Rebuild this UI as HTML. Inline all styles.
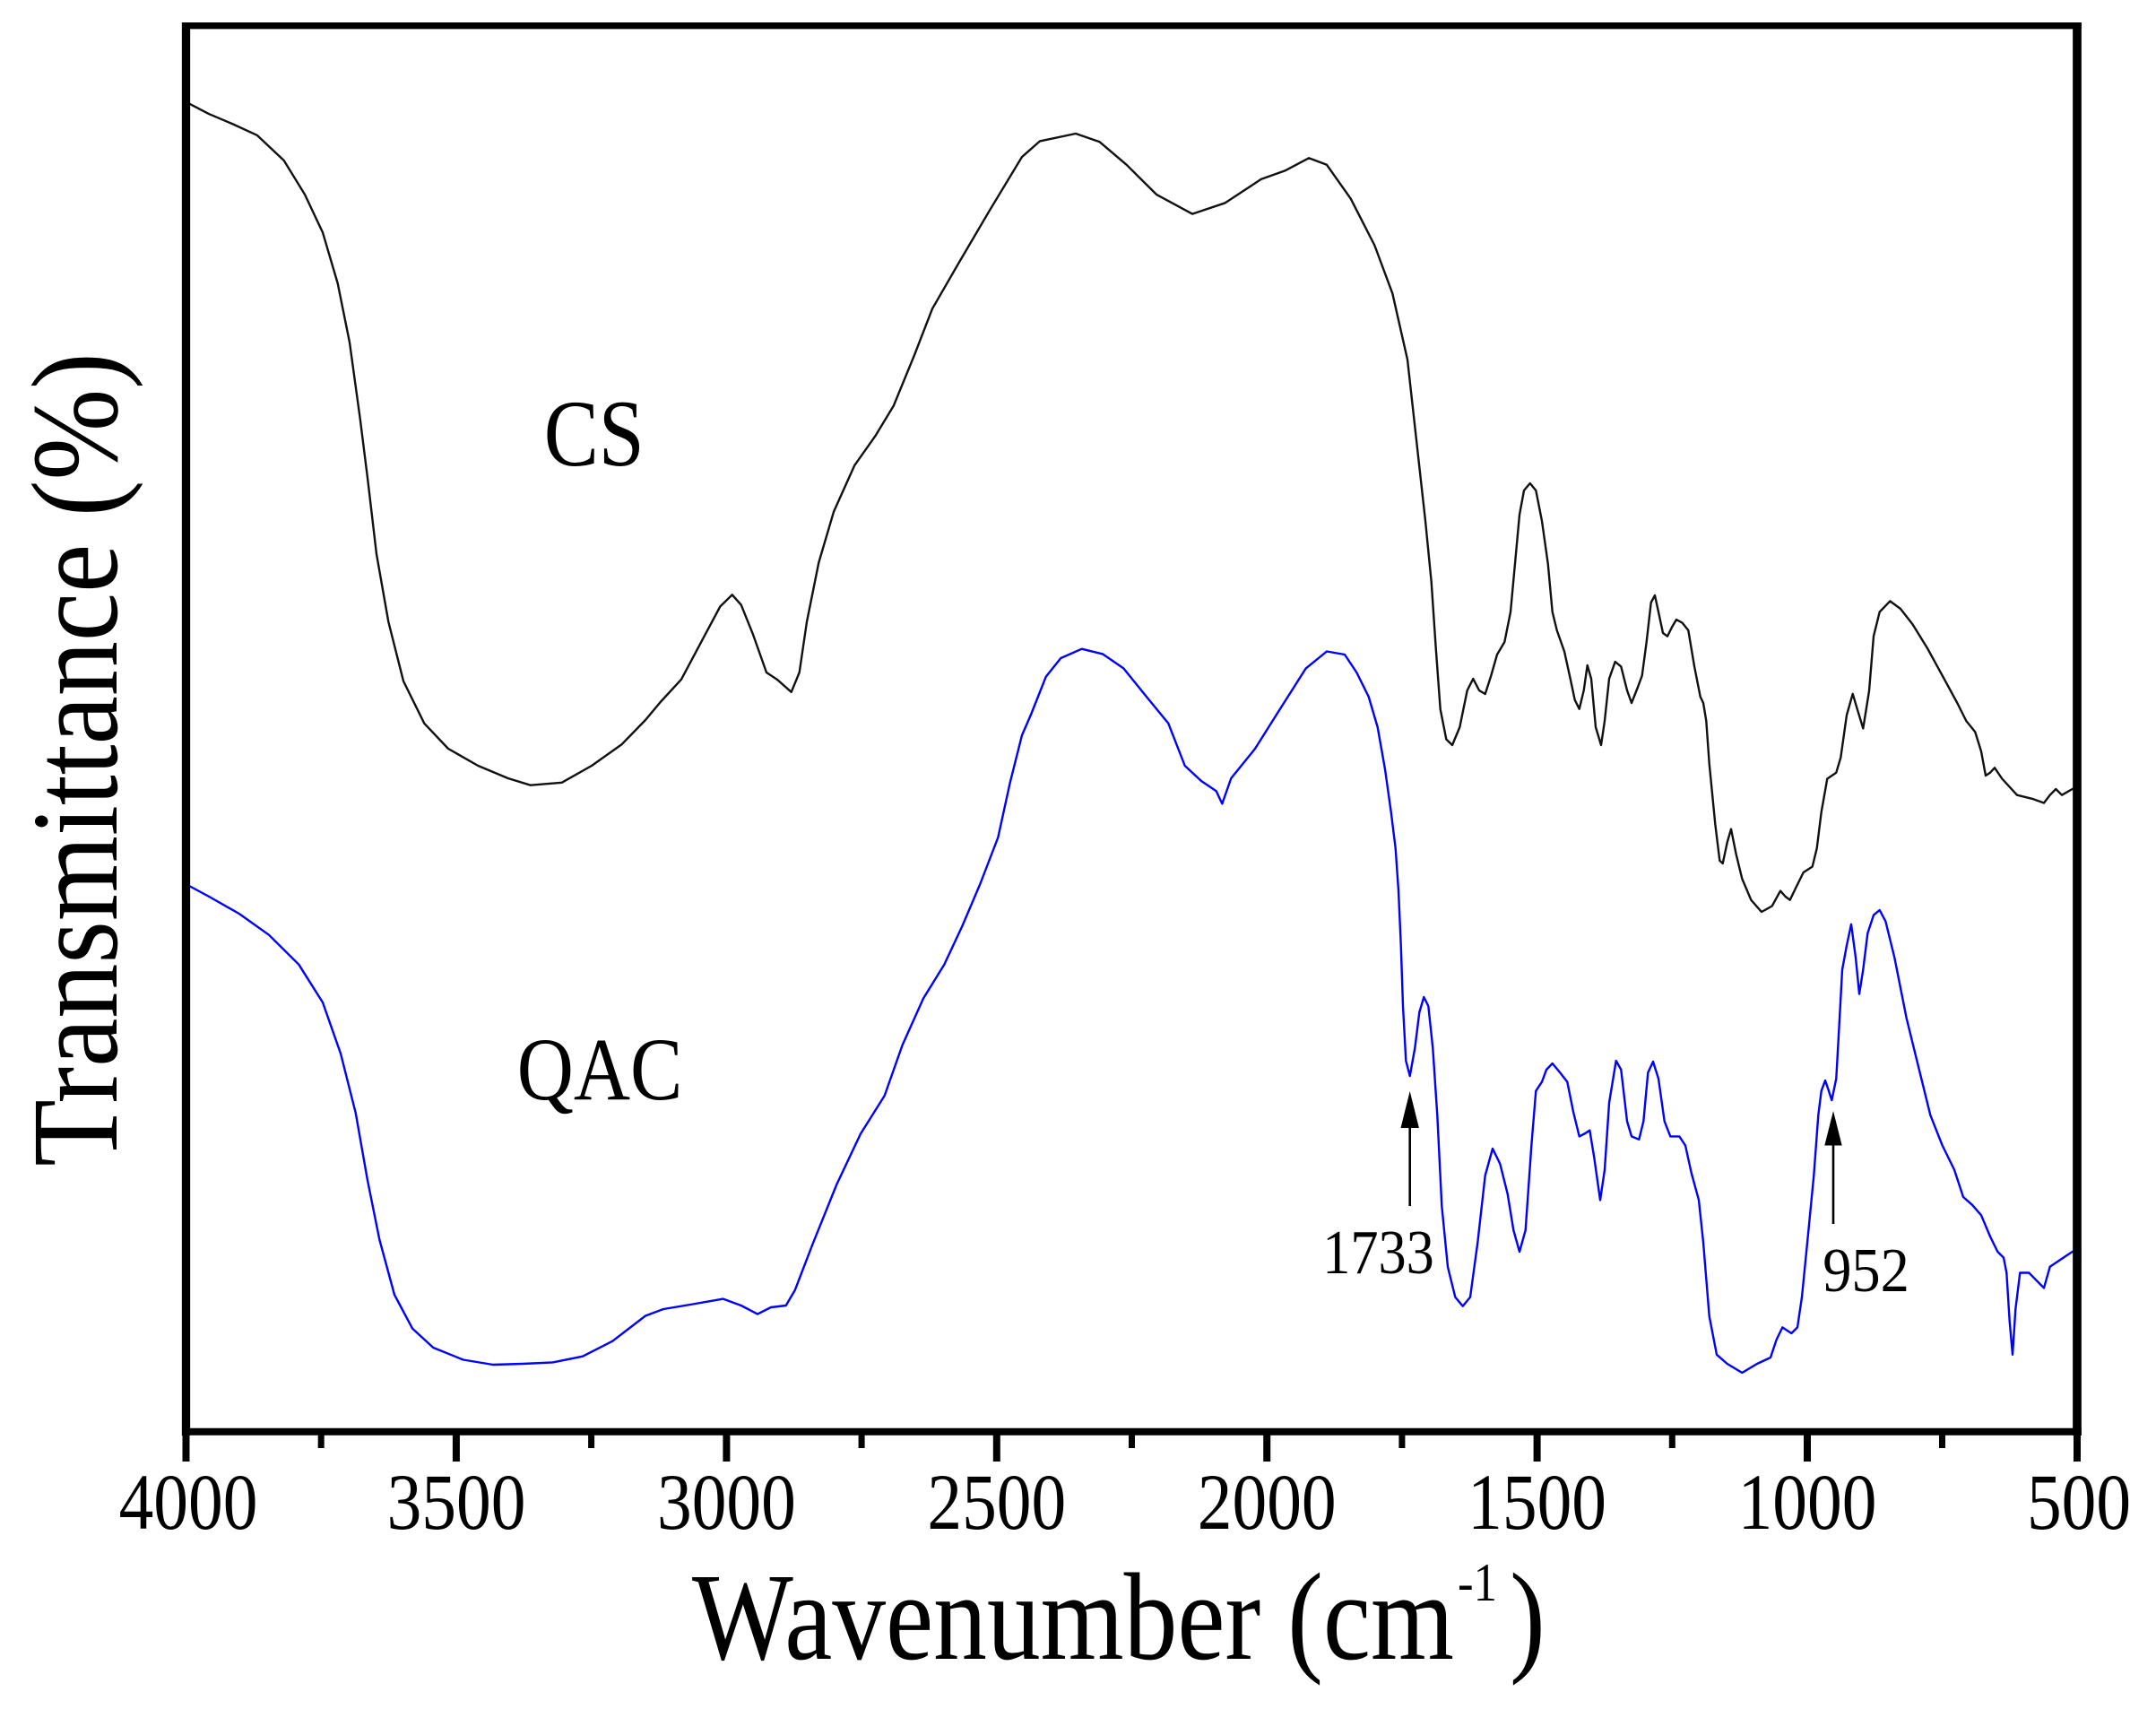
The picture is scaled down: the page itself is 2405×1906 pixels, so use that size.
<!DOCTYPE html>
<html>
<head>
<meta charset="utf-8">
<style>
  html, body { margin: 0; padding: 0; background: #ffffff; }
  svg { display: block; }
  text { font-family: "Liberation Serif", "Times New Roman", serif; fill: #000; }
</style>
</head>
<body>
<svg width="2405" height="1906" viewBox="0 0 2405 1906" xmlns="http://www.w3.org/2000/svg">
  <rect x="0" y="0" width="2405" height="1906" fill="#ffffff"/>

  <!-- CS spectrum (black) -->
  <polyline fill="none" stroke="#111" stroke-width="2.4" stroke-linejoin="round" stroke-linecap="round"
    points="211.7,115.9 233.3,127.2 260,138.5 286.7,150.8 316.7,179 340,216.9 360,259.3 376.7,316 390,382 401.7,467 410,533 420,618 433.3,693.5 450,759.6 473.3,806.8 500,835 533.3,854 566.7,868 591.7,875.7 626.7,872.8 660,854 693.3,830.4 720,803 736.7,783 760,757.7 786.7,707.6 803.3,676.5 816.7,663.3 826.7,674.6 840,707.6 855,750 866.7,757.7 882.7,771.8 891.7,750 900,693.5 913.3,627.4 930,570.8 953.3,518.9 976.7,485.8 996.7,452.8 1020,396 1040,344.3 1070,292.4 1103.3,235.7 1140,175 1160,157.4 1200,149 1226.7,158.3 1256.7,183.8 1290,216.9 1330,238.6 1366.7,226.3 1406.7,199.9 1433.3,190.4 1460,176.3 1480,183.8 1506.7,221.6 1533.3,273.5 1553.3,327.3 1570,401 1581,500 1590,581 1596.7,649 1601.7,723 1606.7,791 1613.3,824.5 1620,831 1628.3,811 1636.7,770 1643.3,757 1650,770 1656.7,774 1663.3,753.5 1670,730 1678.3,716 1685,682.5 1690,628.5 1695,574 1700,547 1706.7,539 1713.3,547 1720,581 1726.7,628.5 1731.7,682.5 1736.7,703 1745,726.5 1751.7,757 1756.7,780.6 1761.7,790.7 1766.7,770 1770.7,742 1775,757 1780,811 1786,831 1790,804 1795,757 1801.7,738 1808.3,743.4 1815,770 1820,784 1826.7,767 1831.7,753.5 1836.7,716 1841.7,672 1846,664 1850,682.5 1855,706 1860,709.6 1865,699.5 1870,691 1876.7,694.7 1883.3,703 1890,743 1896.7,777 1900,784 1903.3,804 1906.7,851.6 1913.3,919 1918.3,959.8 1921.7,963 1926.7,939.5 1931,924.6 1936.7,953 1943.3,980 1953.3,1003.7 1965,1017 1976.7,1010.5 1986,993.6 1991.7,1000 1996.7,1003.7 2003.3,990 2011.7,973 2021.7,966.5 2026.7,946 2031.7,905.7 2038.3,868.5 2048.3,861.7 2053.3,844.8 2060,797.5 2066.7,773.8 2071.7,790.7 2078.3,812.4 2085,770.5 2090,709.6 2096.7,682.5 2108.3,670.4 2120,679 2133.3,696 2150,723 2166.7,753.5 2183.3,784 2193.3,804 2203.3,816.4 2210,838 2215,865 2220,861.7 2225,856.3 2233.3,868.5 2250,886.7 2266.7,890.8 2280,895.5 2286.7,886.7 2293.3,880 2300,886.7 2311.7,880"/>

  <!-- QAC spectrum (blue) -->
  <polyline fill="none" stroke="#0000ff" stroke-width="2.4" stroke-linejoin="round" stroke-linecap="round"
    points="207.3,986 233.3,1000 266.7,1019 300,1042.7 333.3,1075.7 360,1118 380,1175 396.7,1241 410,1316.5 423.3,1382.5 440,1444 460,1481.6 483.3,1503 516.7,1516.5 550,1522 583.3,1521 616.7,1519.4 650,1512.7 683.3,1495.7 720,1467.5 740,1460 770,1455 806.7,1448.6 826.7,1456 845,1465.6 860,1458 876.7,1456 886.7,1439 906.7,1387 933.3,1321 960,1264.5 986.7,1222 1006.7,1165.4 1030,1113.5 1053.3,1075.7 1073.3,1033 1093.3,986 1113.3,934 1126.7,872.8 1140,820 1150,797 1166.7,754.8 1183.3,734 1206.7,723.7 1230,729.4 1253.3,745.4 1280,778.4 1303.3,806.8 1321.7,854 1340,871 1356.7,882.3 1363.3,896.4 1373.3,868 1400,835 1426.7,792.6 1456.7,745.4 1480,726.5 1500,730 1513.3,750 1526.7,777 1536.7,811 1545,858 1551.7,905.7 1556.7,946 1560,993.6 1562.7,1054 1565,1122 1568.3,1183 1572.7,1200 1578.3,1169 1583.3,1129 1588.3,1112 1593.3,1122 1598.3,1169 1603.3,1244 1608.3,1345 1615,1413 1623.3,1446.6 1631.7,1456.7 1640,1446.6 1648.3,1385.7 1656.7,1311 1665,1281 1673.3,1298 1681.7,1331.6 1688.3,1372 1695,1396 1701.7,1372 1708.3,1277.5 1713.3,1216.7 1720,1206.6 1725,1193 1731.7,1186 1740,1196 1748.3,1206.6 1755,1240 1761.7,1267.4 1768.3,1264 1773.3,1260.6 1778.3,1291 1785,1338.4 1790,1304.6 1795,1230 1802.7,1183 1808.3,1193 1815,1250.5 1820,1267.4 1828.3,1270.8 1833.3,1250.5 1838.3,1196.4 1844,1184 1850,1203 1856.7,1250.5 1863.3,1267.4 1873.3,1267.4 1880,1277.5 1886.7,1308 1895,1338.4 1900,1385.7 1906.7,1468 1915,1510.8 1926.7,1521 1943.3,1531 1960,1521 1975,1514 1981.7,1494 1988.3,1480.4 1998.3,1487 2005,1480.4 2010,1446.6 2016.7,1379 2023.3,1311 2028.3,1243.7 2031.7,1216.7 2036,1205 2040,1216.7 2043.3,1227 2048.3,1203 2051.7,1142 2055,1081.5 2060,1054.4 2065,1030.8 2070,1068 2074,1108.5 2078.3,1081.5 2083.3,1041 2090,1020.6 2096.7,1015 2103.3,1027.4 2113.3,1068 2126.7,1135.6 2140,1189.7 2153.3,1243.7 2166.7,1277.5 2180,1304.6 2190,1335 2200,1343.8 2210,1355.3 2220,1379 2228.3,1396 2235,1402.6 2238.3,1419.5 2241.7,1473.6 2245,1510.8 2248.3,1460 2253.3,1419.5 2263.3,1419.5 2273.3,1429.7 2280,1436.4 2286.7,1412.8 2296.7,1406 2311.7,1396"/>

  <!-- Frame -->
  <line x1="207.5" y1="25" x2="207.5" y2="1601" stroke="#000" stroke-width="9.3"/>
  <line x1="2317" y1="25" x2="2317" y2="1601" stroke="#000" stroke-width="9.7"/>
  <line x1="203" y1="28.7" x2="2321.8" y2="28.7" stroke="#000" stroke-width="7.4"/>
  <line x1="203" y1="1596.7" x2="2321.8" y2="1596.7" stroke="#000" stroke-width="8"/>

  <!-- Major ticks -->
  <g stroke="#000" stroke-width="8">
    <line x1="207.5" y1="1596" x2="207.5" y2="1630"/>
    <line x1="508.9" y1="1596" x2="508.9" y2="1630"/>
    <line x1="810.4" y1="1596" x2="810.4" y2="1630"/>
    <line x1="1111.8" y1="1596" x2="1111.8" y2="1630"/>
    <line x1="1413.2" y1="1596" x2="1413.2" y2="1630"/>
    <line x1="1714.6" y1="1596" x2="1714.6" y2="1630"/>
    <line x1="2016" y1="1596" x2="2016" y2="1630"/>
    <line x1="2317" y1="1596" x2="2317" y2="1630"/>
  </g>
  <!-- Minor ticks -->
  <g stroke="#000" stroke-width="7">
    <line x1="358.2" y1="1596" x2="358.2" y2="1615"/>
    <line x1="659.6" y1="1596" x2="659.6" y2="1615"/>
    <line x1="961.1" y1="1596" x2="961.1" y2="1615"/>
    <line x1="1262.5" y1="1596" x2="1262.5" y2="1615"/>
    <line x1="1563.9" y1="1596" x2="1563.9" y2="1615"/>
    <line x1="1865.3" y1="1596" x2="1865.3" y2="1615"/>
    <line x1="2166.5" y1="1596" x2="2166.5" y2="1615"/>
  </g>

  <!-- Tick labels -->
  <g font-size="89" text-anchor="middle">
    <text transform="translate(210,1705) scale(0.87,1)">4000</text>
    <text transform="translate(509,1705) scale(0.87,1)">3500</text>
    <text transform="translate(810.4,1705) scale(0.87,1)">3000</text>
    <text transform="translate(1111.8,1705) scale(0.87,1)">2500</text>
    <text transform="translate(1413.2,1705) scale(0.87,1)">2000</text>
    <text transform="translate(1714.6,1705) scale(0.87,1)">1500</text>
    <text transform="translate(2016,1705) scale(0.87,1)">1000</text>
    <text transform="translate(2319,1705) scale(0.87,1)">500</text>
  </g>

  <!-- Axis titles -->
  <text font-size="137.5" text-anchor="middle" transform="translate(130,847) rotate(-90) scale(0.888,1)">Transmittance (%)</text>

  <text font-size="139" transform="translate(772,1850) scale(0.86,1)">Wavenumber (cm</text>
  <text font-size="60" transform="translate(1626,1785) scale(0.88,1)">-1</text>
  <text font-size="139" transform="translate(1684,1850) scale(0.86,1)">)</text>

  <!-- Series labels -->
  <text font-size="106" transform="translate(606.7,519) scale(0.864,1)">CS</text>
  <text font-size="100" transform="translate(576.7,1226) scale(0.875,1)">QAC</text>

  <!-- Arrows -->
  <line x1="1572.7" y1="1252" x2="1572.7" y2="1345" stroke="#000" stroke-width="2.6"/>
  <polygon points="1572.7,1217 1562.5,1258 1582.9,1258" fill="#000"/>
  <line x1="2045" y1="1272" x2="2045" y2="1365" stroke="#000" stroke-width="2.6"/>
  <polygon points="2045,1239 2035.3,1277.5 2054.7,1277.5" fill="#000"/>

  <text font-size="70" text-anchor="middle" transform="translate(1537.5,1420) scale(0.89,1)">1733</text>
  <text font-size="70" text-anchor="middle" transform="translate(2081.5,1440) scale(0.92,1)">952</text>
</svg>
</body>
</html>
